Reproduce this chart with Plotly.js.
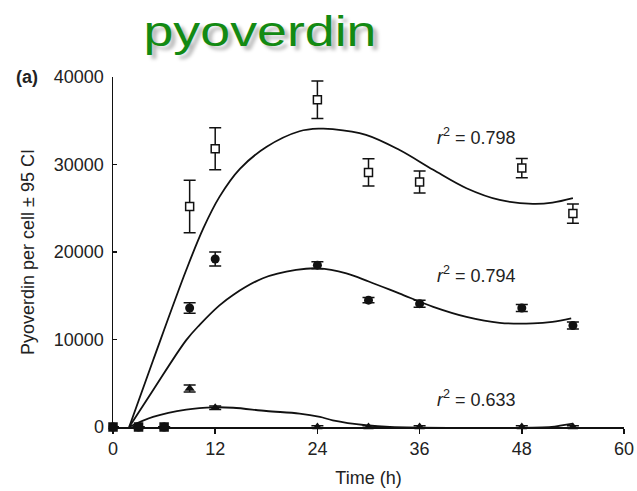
<!DOCTYPE html>
<html>
<head>
<meta charset="utf-8">
<script src="https://cdn.plot.ly/plotly-3.0.1.min.js"></script>
<style>
  html, body { margin: 0; padding: 0; background: #fff; }
  #chart { width: 637px; height: 491px; }
  .gtitle { text-shadow: 4px 5px 4px rgba(0,0,0,0.28); }
</style>
</head>
<body>
<div id="chart"></div>
<script>
// Sampling times (h) and measured pyoverdin per cell for the three strains
const sampleTimes = [0, 3, 6, 9, 12, 24, 30, 36, 48, 54];
const squareValues = [0, 0, 0, 25200, 31800, 37400, 29100, 28000, 29600, 24400];
const squareCI = [0, 0, 0, 3000, 2400, 2150, 1550, 1250, 1100, 1100];
const circleValues = [0, 0, 0, 13600, 19200, 18500, 14500, 14100, 13600, 11600];
const circleCI = [0, 0, 0, 600, 800, 400, 300, 400, 400, 400];
const triangleValues = [0, 0, 0, 4400, 2200, 0, 0, 0, 0, 0];
const triangleCI = [0, 0, 0, 400, 200, 150, 150, 150, 150, 150];

// Fitted curves
const fitUpperTime = [1.9, 4.7, 8.6, 10.6, 12.5, 14.9, 18, 21.9, 24.3, 25.8, 29.7, 33.6, 37.6, 41.5, 45.4, 49.3, 51.6, 54];
const fitUpperValue = [0, 7600, 17940, 22700, 26300, 29500, 32000, 33800, 34100, 34050, 33390, 31680, 29390, 27290, 25950, 25500, 25640, 26150];
const fitMiddleTime = [1.9, 4.7, 8.6, 10.2, 12.5, 14.1, 17.6, 21.5, 24.1, 27.4, 30.1, 33.6, 37.6, 41.5, 45.4, 49.3, 51.6, 53.8];
const fitMiddleValue = [0, 4200, 9930, 11700, 13900, 15100, 17000, 17950, 18130, 17560, 16600, 15270, 13740, 12590, 11910, 11840, 12020, 12410];
const fitLowerTime = [1.9, 4.7, 8.6, 11.9, 14.1, 18, 21.9, 24.3, 25.8, 29.7, 32.5, 51.5, 52.5, 54];
const fitLowerValue = [0, 1150, 1990, 2250, 2200, 1830, 1530, 1150, 770, 200, 0, 0, 150, 390];

// Fit statistics
const fitLabels = ['<i>r</i><sup>2</sup> = 0.798', '<i>r</i><sup>2</sup> = 0.794', '<i>r</i><sup>2</sup> = 0.633'];
const fitLabelY = [33200, 17400, 3250];

const xTicks = [0, 12, 24, 36, 48, 60];
const yTicks = [0, 10000, 20000, 30000, 40000];

const FONT = 'Liberation Sans, Arial, Helvetica, sans-serif';
const INK = '#111';
const TXT = '#222';

function errBars(arr) {
  return { type: 'data', array: arr, visible: true, color: INK, thickness: 1.5, width: 6 };
}

function fitLine(x, y) {
  return { x: x, y: y, mode: 'lines', line: { color: INK, width: 1.8, shape: 'spline', smoothing: 1 },
           hoverinfo: 'skip', showlegend: false };
}

const squareFill = squareValues.map(v => v === 0 ? INK : '#fff');

const traces = [
  fitLine(fitUpperTime, fitUpperValue),
  fitLine(fitMiddleTime, fitMiddleValue),
  fitLine(fitLowerTime, fitLowerValue),
  {
    x: sampleTimes, y: squareValues, mode: 'markers', error_y: errBars(squareCI),
    marker: { symbol: 'square', size: 8, color: squareFill, line: { color: INK, width: 1.5 } },
    cliponaxis: false, showlegend: false
  },
  {
    x: sampleTimes, y: circleValues, mode: 'markers', error_y: errBars(circleCI),
    marker: { symbol: 'circle', size: 9, color: INK },
    cliponaxis: false, showlegend: false
  },
  {
    x: sampleTimes, y: triangleValues, mode: 'markers', error_y: errBars(triangleCI),
    marker: { symbol: 'triangle-up', size: 9, color: INK },
    cliponaxis: false, showlegend: false
  }
];

const annotations = fitLabels.map((t, i) => ({
  x: 37.8, y: fitLabelY[i], xref: 'x', yref: 'y', text: t, showarrow: false,
  xanchor: 'left', yanchor: 'middle', font: { family: FONT, size: 18, color: TXT }
}));
annotations.push({
  x: (14 - 113) / 511, y: 1, xref: 'paper', yref: 'paper', text: '<b>(a)</b>', showarrow: false,
  xanchor: 'left', yanchor: 'middle', font: { family: FONT, size: 18, color: TXT }
});

const layout = {
  width: 637, height: 491,
  margin: { l: 113, r: 13, t: 77, b: 64 },
  paper_bgcolor: '#fff', plot_bgcolor: '#fff',
  title: {
    text: 'pyoverdin', x: 260 / 637, xanchor: 'center', xref: 'container',
    y: 1 - 31 / 491, yanchor: 'middle', yref: 'container',
    font: { family: FONT, size: 42, color: '#138a13' }
  },
  xaxis: {
    range: [0, 60], tickvals: xTicks, ticktext: xTicks.map(String),
    showgrid: false, zeroline: false, showline: true, linecolor: INK, linewidth: 1.5,
    ticks: 'outside', ticklen: 5, tickwidth: 1.5, tickcolor: INK,
    tickfont: { family: FONT, size: 18, color: TXT },
    title: { text: 'Time (h)', font: { family: FONT, size: 18, color: TXT }, standoff: 13 }
  },
  yaxis: {
    range: [0, 40000], tickvals: yTicks, ticktext: yTicks.map(String),
    showgrid: false, zeroline: false, showline: true, linecolor: INK, linewidth: 1.5,
    ticks: 'inside', ticklen: 4, tickwidth: 1.5, tickcolor: INK, ticklabelstandoff: 4,
    tickfont: { family: FONT, size: 18, color: TXT },
    title: { text: 'Pyoverdin per cell ± 95 CI', font: { family: FONT, size: 18, color: TXT }, standoff: 14 }
  },
  annotations: annotations,
  showlegend: false
};

Plotly.newPlot('chart', traces, layout, { displayModeBar: false, staticPlot: true }).then(() => {
  // widen the heading letterforms horizontally around their centre
  const t = document.querySelector('.gtitle');
  if (t) {
    const cx = parseFloat(t.getAttribute('x'));
    t.setAttribute('transform', `translate(${cx},0) scale(1.28,1) translate(${-cx},0)`);
  }
});
</script>
</body>
</html>
